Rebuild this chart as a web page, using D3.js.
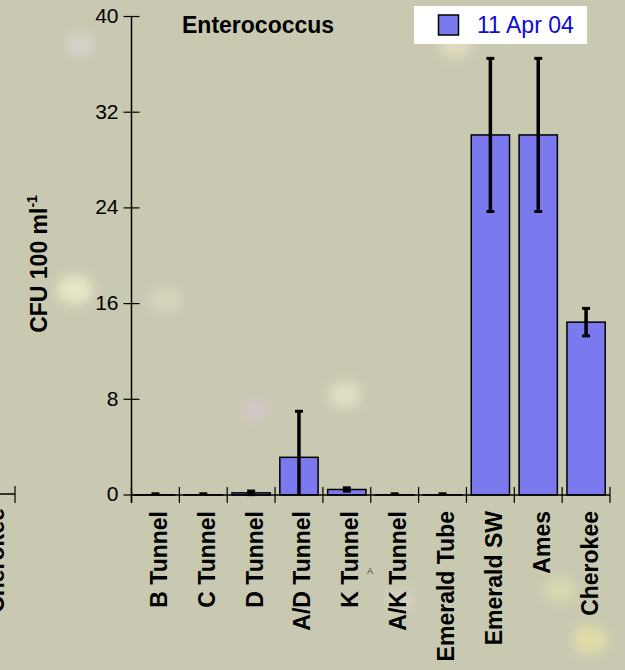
<!DOCTYPE html>
<html>
<head>
<meta charset="utf-8">
<script src="https://cdn.jsdelivr.net/npm/d3@7"></script>
<style>
  html, body { margin: 0; padding: 0; background: #c9c9b1; }
  svg { display: block; font-family: Arial, "Liberation Sans", sans-serif; }
</style>
</head>
<body>
<svg width="625" height="670"></svg>
<script>
var categories = ["B Tunnel", "C Tunnel", "D Tunnel", "A/D Tunnel", "K Tunnel",
  "A/K Tunnel", "Emerald Tube", "Emerald SW", "Ames", "Cherokee"];
var values = [0.02, 0.02, 0.18, 3.15, 0.46, 0.02, 0.02, 30.1, 30.1, 14.45];
var errors = [0.08, 0.08, 0.15, 3.85, 0.14, 0.08, 0.08, 6.4, 6.4, 1.15];
var yTicks = [0, 8, 16, 24, 32, 40];
var seriesName = "11 Apr 04";
var title = "Enterococcus";

var svg = d3.select("svg"),
  barColor = "#7a7aee";

// blurred background specks, just for the photographic feel
var defs = svg.append("defs");
defs.append("filter").attr("id", "blur")
  .append("feGaussianBlur").attr("stdDeviation", 6);
svg.append("rect").attr("width", 625).attr("height", 670).attr("fill", "#c9c9b1");
var specks = [[75, 290, 18, "#e8e6c8"], [165, 300, 16, "#d8d4bc"], [345, 395, 16, "#e2e0c4"],
  [255, 410, 14, "#d2c8c8"], [455, 45, 16, "#e0dcc0"], [590, 640, 18, "#e0dca8"],
  [400, 600, 14, "#d6cfc0"], [80, 45, 14, "#d8d0cc"], [560, 590, 16, "#d8d8b0"]];
svg.append("g").attr("filter", "url(#blur)")
  .selectAll("ellipse").data(specks).enter().append("ellipse")
  .attr("cx", function (d) { return d[0]; })
  .attr("cy", function (d) { return d[1]; })
  .attr("rx", function (d) { return d[2]; })
  .attr("ry", function (d) { return d[2] * 0.8; })
  .attr("fill", function (d) { return d[3]; });

var x = d3.scaleBand()
  .domain(categories)
  .range([131.5, 610])
  .paddingInner(0.2)
  .paddingOuter(0.1);

var y = d3.scaleLinear()
  .domain([0, 40])
  .range([495, 16.5]);

var g = svg.append("g");

// bars
g.selectAll(".bar")
  .data(categories)
  .enter().append("rect")
  .attr("x", function (d) { return x(d); })
  .attr("y", function (d, i) { return y(values[i]); })
  .attr("width", x.bandwidth())
  .attr("height", function (d, i) { return y(0) - y(values[i]); })
  .attr("fill", barColor)
  .attr("stroke", "#000")
  .attr("stroke-width", 1.5);

// error bars
var eb = g.append("g").selectAll("g")
  .data(categories)
  .enter().append("g")
  .attr("transform", function (d) { return "translate(" + (x(d) + x.bandwidth() / 2) + ",0)"; });

eb.append("line")
  .attr("y1", function (d, i) { return y(values[i] + errors[i]); })
  .attr("y2", function (d, i) { return y(Math.max(0, values[i] - errors[i])); })
  .attr("stroke", "#000")
  .attr("stroke-width", 3.5);

eb.append("line")
  .attr("x1", -4).attr("x2", 4)
  .attr("y1", function (d, i) { return y(values[i] + errors[i]); })
  .attr("y2", function (d, i) { return y(values[i] + errors[i]); })
  .attr("stroke", "#000")
  .attr("stroke-width", 3);

eb.filter(function (d, i) { return values[i] - errors[i] > 0; })
  .append("line")
  .attr("x1", -4).attr("x2", 4)
  .attr("y1", function (d) { var i = categories.indexOf(d); return y(values[i] - errors[i]); })
  .attr("y2", function (d) { var i = categories.indexOf(d); return y(values[i] - errors[i]); })
  .attr("stroke", "#000")
  .attr("stroke-width", 3);

// y axis
g.append("line")
  .attr("x1", 131.5).attr("x2", 131.5)
  .attr("y1", y(40)).attr("y2", 503)
  .attr("stroke", "#000").attr("stroke-width", 1.5);

var yt = g.append("g").selectAll("g")
  .data(yTicks)
  .enter().append("g")
  .attr("transform", function (d) { return "translate(131.5," + y(d) + ")"; });

yt.append("line")
  .attr("x1", -8).attr("x2", 8)
  .attr("stroke", "#000").attr("stroke-width", 1.2);

yt.append("text")
  .attr("x", -13)
  .attr("dy", "0.3em")
  .attr("text-anchor", "end")
  .attr("font-size", 21)
  .attr("fill", "#000")
  .text(function (d) { return d; });

// x axis
g.append("line")
  .attr("x1", 131.5).attr("x2", 610)
  .attr("y1", y(0)).attr("y2", y(0))
  .attr("stroke", "#000").attr("stroke-width", 1.5);

var bounds = categories.map(function (d) { return x(d) + x.bandwidth() / 2 - x.step() / 2; });
bounds.push(bounds[bounds.length - 1] + x.step());

g.append("g").selectAll("line")
  .data(bounds)
  .enter().append("line")
  .attr("x1", function (d) { return d; })
  .attr("x2", function (d) { return d; })
  .attr("y1", y(0) - 8).attr("y2", y(0) + 8)
  .attr("stroke", "#000").attr("stroke-width", 1.2);

g.append("g").selectAll("text")
  .data(categories)
  .enter().append("text")
  .attr("transform", function (d) { return "translate(" + (x(d) + x.bandwidth() / 2 + 11.5) + ",511)rotate(-90)"; })
  .attr("text-anchor", "end")
  .attr("font-size", 23)
  .attr("font-weight", "bold")
  .attr("fill", "#000")
  .text(function (d) { return d; });

// stray mark from the slide
svg.append("text")
  .attr("x", 367).attr("y", 574)
  .attr("font-size", 9)
  .attr("fill", "#444")
  .text("A");

// piece of the neighbouring chart at the left edge
svg.append("line")
  .attr("x1", 0).attr("x2", 15).attr("y1", 494).attr("y2", 494)
  .attr("stroke", "#000").attr("stroke-width", 1.5);
svg.append("line")
  .attr("x1", 15).attr("x2", 15).attr("y1", 486).attr("y2", 503)
  .attr("stroke", "#000").attr("stroke-width", 1.2);
svg.append("text")
  .attr("transform", "translate(4,508)rotate(-90)")
  .attr("text-anchor", "end")
  .attr("font-size", 23)
  .attr("font-weight", "bold")
  .text(categories[categories.length - 1]);

// y label
var yl = svg.append("text")
  .attr("transform", "translate(47,264)rotate(-90)")
  .attr("text-anchor", "middle")
  .attr("font-size", 23)
  .attr("font-weight", "bold")
  .attr("fill", "#000");
yl.append("tspan").text("CFU 100 ml");
yl.append("tspan").attr("dy", -10).attr("font-size", 14).text("-1");

// title
svg.append("text")
  .attr("x", 182).attr("y", 33)
  .attr("font-size", 23)
  .attr("font-weight", "bold")
  .attr("fill", "#000")
  .text(title);

// legend
var lg = svg.append("g");
lg.append("rect")
  .attr("x", 414).attr("y", 6).attr("width", 173).attr("height", 38)
  .attr("fill", "#fff");
lg.append("rect")
  .attr("x", 438.5).attr("y", 15).attr("width", 20).attr("height", 20)
  .attr("fill", barColor).attr("stroke", "#000").attr("stroke-width", 1.5);
lg.append("text")
  .attr("x", 477).attr("y", 33)
  .attr("font-size", 23)
  .attr("fill", "#0c0cd8")
  .text(seriesName);
</script>
</body>
</html>
